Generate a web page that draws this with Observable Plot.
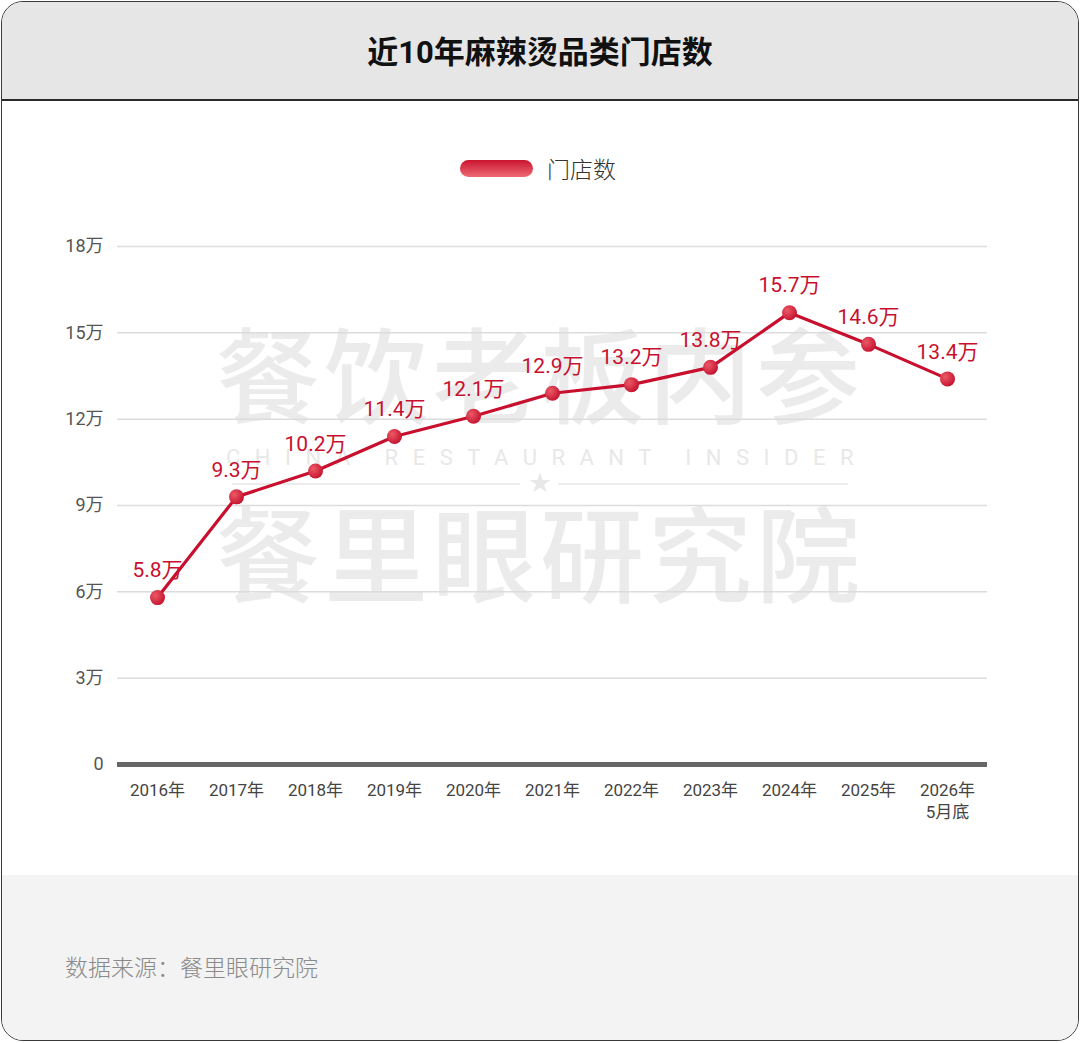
<!DOCTYPE html>
<html><head><meta charset="utf-8">
<script src="https://cdn.jsdelivr.net/npm/d3@7"></script>
<script src="https://cdn.jsdelivr.net/npm/@observablehq/plot@0.6"></script>
<style>
body{margin:0;background:#fff;font-family:Roboto,"Noto Sans CJK SC","Noto Sans",sans-serif;}
#card{position:absolute;left:1px;top:1px;width:1076px;height:1038px;border:1.5px solid #3a3a3a;border-radius:22px;overflow:hidden;background:#fff;}
#head{position:absolute;left:0;top:0;width:100%;height:97px;background:#e6e6e6;border-bottom:2px solid #2a2a2a;}
#title{position:absolute;left:0;width:100%;top:30px;text-align:center;font-size:31px;font-weight:700;color:#111;line-height:42px;}
#foot{position:absolute;left:0;top:873px;width:100%;height:170px;background:#f3f3f3;}
#src{position:absolute;left:65px;top:949px;font-size:23px;color:#8a8a8a;font-weight:300;}
#legend{position:absolute;top:151px;left:460px;display:flex;align-items:center;}
#pill{width:73px;height:17px;border-radius:9px;background:linear-gradient(#c9142f,#ef6a74);}
#legtxt{margin-left:14px;font-size:23px;color:#333;font-weight:300;}
.wm{position:absolute;left:0;width:1080px;text-align:center;color:#ebebeb;}
.wl{position:absolute;top:483px;height:0;border-top:2px solid #ececec;}
#chart{position:absolute;left:0;top:200px;}
</style></head>
<body>
<div id="card"><div id="head"><div id="title"></div></div><div id="foot"></div></div>
<div class="wm" style="top:326px;font-size:104px;letter-spacing:4px;line-height:110px;font-weight:500;">餐饮老板内参</div>
<div class="wm" style="top:444px;font-size:22px;letter-spacing:14.5px;line-height:28px;color:#e8e8e8;padding-left:14px;box-sizing:border-box;">CHINA RESTAURANT INSIDER</div>
<div class="wl" style="left:232px;width:288px;"></div>
<div class="wl" style="left:558px;width:290px;"></div>
<div class="wm" style="top:470px;font-size:22px;line-height:26px;color:#e8e8e8;">★</div>
<div class="wm" style="top:505px;font-size:104px;letter-spacing:4px;line-height:110px;font-weight:500;">餐里眼研究院</div>
<div id="legend"><div id="pill"></div><div id="legtxt"></div></div>
<div id="src"></div>
<div id="chart"></div>
<script>
const title = "近10年麻辣烫品类门店数";
const seriesName = "门店数";
const source = "数据来源：餐里眼研究院";
const years = ["2016年","2017年","2018年","2019年","2020年","2021年","2022年","2023年","2024年","2025年","2026年\n5月底"];
const stores = [5.8, 9.3, 10.2, 11.4, 12.1, 12.9, 13.2, 13.8, 15.7, 14.6, 13.4];
const yTicks = [0, 3, 6, 9, 12, 15, 18];

document.getElementById("title").textContent = title;
document.getElementById("legtxt").textContent = seriesName;
document.getElementById("src").textContent = source;

const data = years.map((y, i) => ({year: y, value: stores[i]}));
const red = "#c8102e";

const chart = Plot.plot({
  width: 1080,
  height: 670,
  marginLeft: 117,
  marginRight: 93,
  marginTop: 46,
  marginBottom: 106,
  style: {fontFamily: "Roboto,'Noto Sans CJK SC','Noto Sans',sans-serif", background: "transparent", overflow: "visible"},
  x: {type: "point", domain: years, padding: 0.5, label: null},
  y: {domain: [0, 18], ticks: yTicks, label: null},
  marks: [
    Plot.gridY(yTicks.filter(d => d > 0), {stroke: "#dcdcdc", strokeOpacity: 1, strokeWidth: 1.5}),
    Plot.axisY(yTicks, {tickSize: 0, tickPadding: 14, fontSize: 18, fill: "#555", tickFormat: d => d === 0 ? "0" : d + "万"}),
    Plot.axisX({tickSize: 0, tickPadding: 16, fontSize: 17, fill: "#444", lineHeight: 1.3}),
    Plot.ruleY([0], {stroke: "#666", strokeWidth: 5}),
    Plot.line(data, {x: "year", y: "value", stroke: red, strokeWidth: 3.2}),
    Plot.dot(data, {x: "year", y: "value", r: 7.5, fill: "url(#dotgrad)", stroke: null}),
    Plot.text(data, {x: "year", y: "value", text: d => d.value + "万", dy: -27, fill: red, fontSize: 21})
  ]
});
const svg = d3.select(chart);
const defs = svg.insert("defs", ":first-child");
const g = defs.append("radialGradient").attr("id", "dotgrad").attr("cx", "35%").attr("cy", "35%").attr("r", "70%");
g.append("stop").attr("offset", "0%").attr("stop-color", "#ec5a66");
g.append("stop").attr("offset", "100%").attr("stop-color", "#c4122f");
document.getElementById("chart").appendChild(chart);
</script>
</body></html>
